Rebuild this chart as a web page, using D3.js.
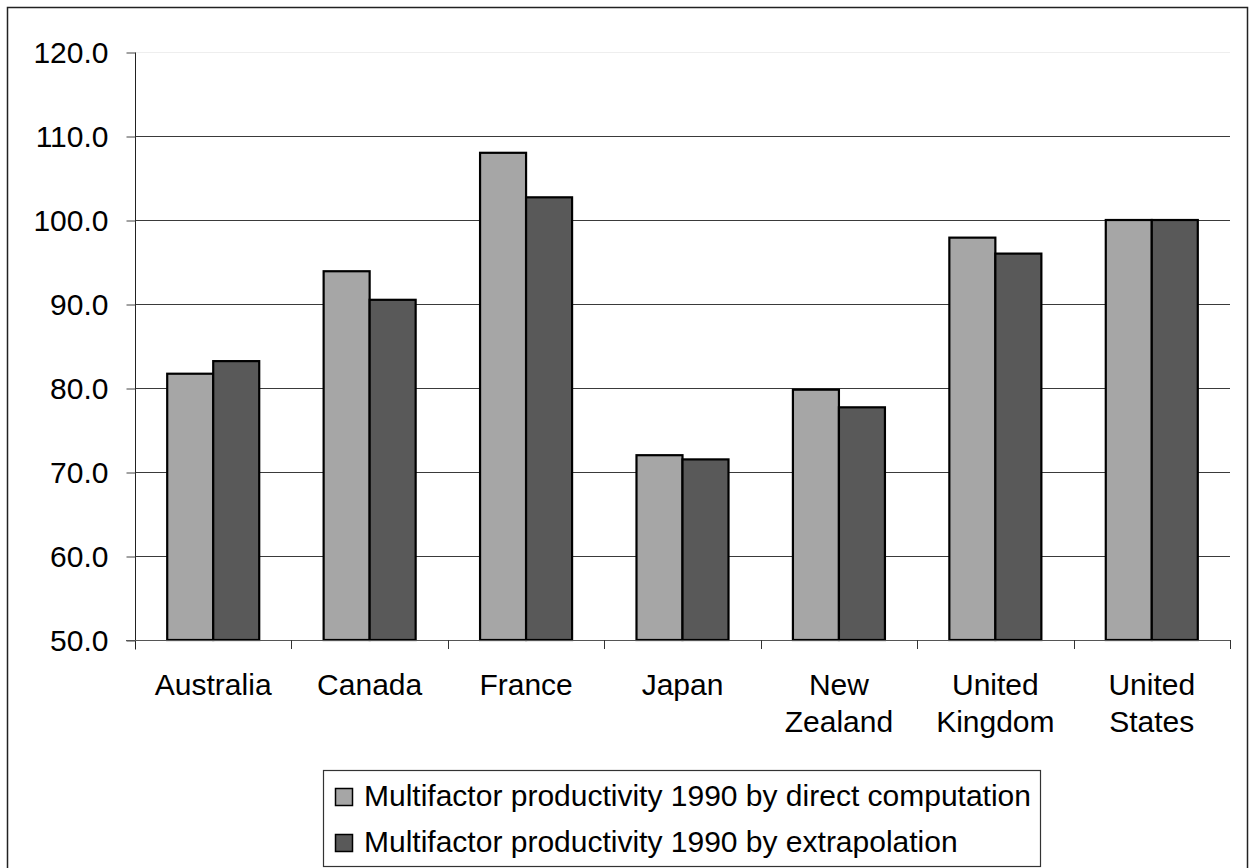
<!DOCTYPE html>
<html>
<head>
<meta charset="utf-8">
<script src="https://cdn.jsdelivr.net/npm/d3@7"></script>
<style>
  html, body { margin: 0; padding: 0; background: #fff; }
  svg { display: block; font-family: "Liberation Sans", Arial, sans-serif; }
</style>
</head>
<body>
<svg id="chart" width="1249" height="868"></svg>
<script>
// Multifactor productivity in 1990, index (United States = 100)
const countries = ["Australia", "Canada", "France", "Japan", "New Zealand", "United Kingdom", "United States"];
const countryLines = [["Australia"], ["Canada"], ["France"], ["Japan"], ["New", "Zealand"], ["United", "Kingdom"], ["United", "States"]];
const directComputation = [81.7, 93.9, 108.0, 72.0, 79.8, 97.9, 100.0];
const extrapolation = [83.2, 90.5, 102.7, 71.5, 77.7, 96.0, 100.0];
const seriesNames = [
  "Multifactor productivity 1990 by direct computation",
  "Multifactor productivity 1990 by extrapolation"
];
const seriesColors = ["#a6a6a6", "#595959"];
const yTicks = [50, 60, 70, 80, 90, 100, 110, 120];

const svg = d3.select("#chart");
const W = 1249, H = 868;
const plot = { left: 135, right: 1230, top: 52, bottom: 640 };
const fontSize = 30;

svg.append("rect").attr("width", W).attr("height", H).attr("fill", "#fff");
// outer chart border
svg.append("rect")
  .attr("x", 7.5).attr("y", 7.5).attr("width", 1240).attr("height", 870)
  .attr("fill", "none").attr("stroke", "#222").attr("stroke-width", 1.5);

const x = d3.scaleBand().domain(countries).range([plot.left, plot.right]).padding(0);
const y = d3.scaleLinear().domain([50, 120]).range([plot.bottom, plot.top]);

// two bars per category, group centred with a 140% gap width
const barW = x.bandwidth() / 3.4;
const xs = d3.scaleBand().domain([0, 1])
  .range([x.bandwidth() / 2 - barW, x.bandwidth() / 2 + barW]).padding(0);

// horizontal gridlines
svg.append("g").selectAll("line").data(yTicks.filter(t => t > 50)).join("line")
  .attr("x1", plot.left).attr("x2", plot.right)
  .attr("y1", d => Math.round(y(d)) + 0.5).attr("y2", d => Math.round(y(d)) + 0.5)
  .attr("stroke", d => d === 120 ? "#eeeeee" : "#3a3a3a")
  .attr("stroke-width", 1);

// y axis
const yAxis = svg.append("g")
  .attr("transform", `translate(${plot.left + 0.5},0.5)`)
  .call(d3.axisLeft(y).tickValues(yTicks).tickFormat(d3.format(".1f")).tickSize(9).tickPadding(18));
yAxis.select(".domain").attr("stroke", "#222").attr("d", `M0,${y(120)}V${plot.bottom + 9}`);
yAxis.selectAll(".tick line").attr("stroke", "#444");
yAxis.selectAll(".tick text")
  .attr("font-size", fontSize).attr("font-family", "Liberation Sans, Arial, sans-serif")
  .attr("fill", "#000");

// bars
const data = countries.map((c, i) => ({ c, vals: [directComputation[i], extrapolation[i]] }));
const groups = svg.append("g").selectAll("g").data(data).join("g")
  .attr("transform", d => `translate(${x(d.c)},0)`);
groups.selectAll("rect").data(d => d.vals.map((v, k) => ({ v, k }))).join("rect")
  .attr("x", d => xs(d.k))
  .attr("width", xs.bandwidth())
  .attr("y", d => y(d.v))
  .attr("height", d => y(50) - y(d.v))
  .attr("fill", d => seriesColors[d.k])
  .attr("stroke", "#000").attr("stroke-width", 2.2);

// x axis line and category boundary ticks
const xAxis = svg.append("g");
xAxis.append("line")
  .attr("x1", plot.left - 9).attr("x2", plot.right)
  .attr("y1", plot.bottom + 0.5).attr("y2", plot.bottom + 0.5)
  .attr("stroke", "#555").attr("stroke-width", 1.2);
const boundaries = countries.map(c => x(c)).concat([plot.right]);
xAxis.selectAll("line.b").data(boundaries.slice(1)).join("line").attr("class", "b")
  .attr("x1", d => Math.round(d) + 0.5).attr("x2", d => Math.round(d) + 0.5)
  .attr("y1", plot.bottom).attr("y2", plot.bottom + 9)
  .attr("stroke", "#333");

// category labels
const labels = svg.append("g").selectAll("text").data(countries).join("text")
  .attr("x", d => x(d) + x.bandwidth() / 2)
  .attr("text-anchor", "middle")
  .attr("font-size", fontSize).attr("fill", "#000");
labels.each(function (d, i) {
  d3.select(this).selectAll("tspan").data(countryLines[i]).join("tspan")
    .attr("x", x(d) + x.bandwidth() / 2)
    .attr("y", (t, j) => 695 + j * 37)
    .text(t => t);
});

// legend
const legend = svg.append("g");
legend.append("rect")
  .attr("x", 323.5).attr("y", 770.5).attr("width", 717).attr("height", 96)
  .attr("fill", "#fff").attr("stroke", "#333").attr("stroke-width", 1.2);
const items = legend.selectAll("g").data(seriesNames).join("g")
  .attr("transform", (d, i) => `translate(0,${i * 46})`);
items.append("rect")
  .attr("x", 335.5).attr("y", 788.5).attr("width", 17).attr("height", 17)
  .attr("fill", (d, i) => seriesColors[i]).attr("stroke", "#000").attr("stroke-width", 1.5);
items.append("text")
  .attr("x", 364).attr("y", 806)
  .attr("font-size", fontSize).attr("fill", "#000")
  .text(d => d);
</script>
</body>
</html>
